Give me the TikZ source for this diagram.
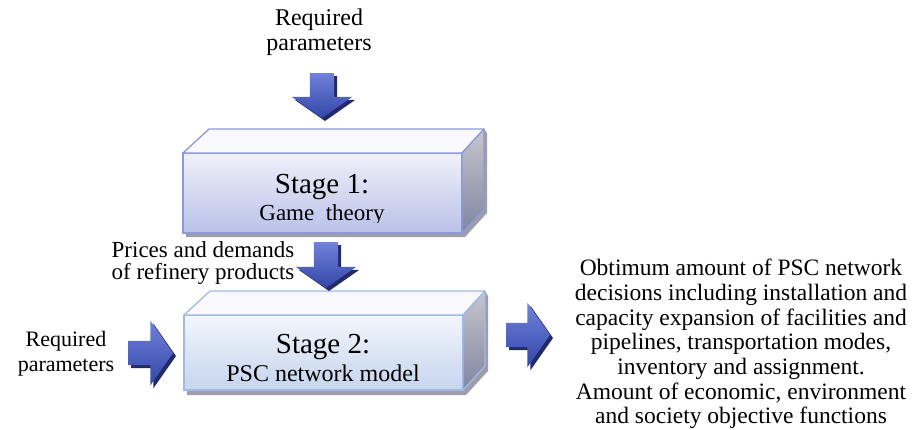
\documentclass[tikz,border=0pt]{standalone}
\usepackage{fontspec}
\setmainfont{Liberation Serif}
\usepackage{xcolor}
\usepackage{tikz}
\usetikzlibrary{shapes,arrows,positioning,calc,shadows,backgrounds}

\definecolor{boxonedraw}{RGB}{140,155,215}
\definecolor{boxonetop}{RGB}{240,241,250}
\definecolor{boxonebot}{RGB}{186,193,232}
\definecolor{boxtwodraw}{RGB}{160,186,228}
\definecolor{boxtwotop}{RGB}{243,246,252}
\definecolor{boxtwobot}{RGB}{198,212,238}
\definecolor{facetop}{RGB}{248,248,253}
\definecolor{sidelight}{RGB}{198,198,204}
\definecolor{sidedark}{RGB}{128,133,162}
\definecolor{boxshadow}{RGB}{158,158,170}
\definecolor{arrowlight}{RGB}{112,130,218}
\definecolor{arrowdark}{RGB}{52,70,168}
\definecolor{arrowshade}{RGB}{36,42,100}

\begin{document}
\begin{tikzpicture}[x=1pt,y=-1pt,
  every node/.style={inner sep=0pt,outer sep=0pt},
  stagebox/.style={rectangle,minimum width=279pt,line width=1.3pt},
  topface/.style={fill=facetop,line width=1.3pt,line join=round},
  sideface/.style={top color=sidelight,bottom color=sidedark,line width=1.3pt,line join=round},
  blockarrow/.style={single arrow,inner xsep=0pt,inner ysep=12pt,
    single arrow head extend=18pt,single arrow tip angle=110,minimum height=45pt,
    top color=arrowlight,bottom color=arrowdark,
    copy shadow={shadow xshift=3pt,shadow yshift=-3pt,fill=arrowshade,draw=none}},
  bigtxt/.style={align=center,font=\fontsize{24}{25}\selectfont}
]
  \useasboundingbox (0,0) rectangle (920,429);

  % stage 1 box
  \node[stagebox,minimum height=80pt,draw=boxonedraw,top color=boxonetop,bottom color=boxonebot] (stageone) at (322.5,193) {};
  \draw[topface,draw=boxonedraw] (stageone.north west) -- ++(26,-24) -- ($(stageone.north east)+(22,-24)$) -- (stageone.north east) -- cycle;
  \draw[sideface,draw=boxonedraw] (stageone.north east) -- ++(22,-24) -- ($(stageone.south east)+(22,-24)$) -- (stageone.south east) -- cycle;
  \begin{pgfonlayer}{background}
    \fill[boxshadow] ($(stageone.south west)+(3,4)$) -- ($(stageone.south east)+(3,4)$) -- ($(stageone.south east)+(25,-20)$) -- ($(stageone.north east)+(25,-20)$) -- ($(stageone.north east)+(22,-24)$) -- (stageone.north west) -- cycle;
  \end{pgfonlayer}
  \begin{scope}
    \clip (stageone.north west) rectangle (462,222);
    \node[anchor=base,font=\fontsize{29}{30}\selectfont] (stageonettl) at (322,193) {Stage 1:};
    \node[anchor=base,font=\fontsize{23}{24}\selectfont] (stageonesub) at (322,220) {Game~ theory};
  \end{scope}

  % stage 2 box
  \node[stagebox,minimum height=75pt,draw=boxtwodraw,top color=boxtwotop,bottom color=boxtwobot] (stagetwo) at (323.5,352.5) {};
  \draw[topface,draw=boxtwodraw] (stagetwo.north west) -- ++(26,-24) -- ($(stagetwo.north east)+(22,-24)$) -- (stagetwo.north east) -- cycle;
  \draw[sideface,draw=boxtwodraw] (stagetwo.north east) -- ++(22,-24) -- ($(stagetwo.south east)+(22,-24)$) -- (stagetwo.south east) -- cycle;
  \begin{pgfonlayer}{background}
    \fill[boxshadow] ($(stagetwo.south west)+(3,5)$) -- ($(stagetwo.south east)+(3,5)$) -- ($(stagetwo.south east)+(25,-19)$) -- ($(stagetwo.north east)+(25,-19)$) -- ($(stagetwo.north east)+(22,-24)$) -- (stagetwo.north west) -- cycle;
  \end{pgfonlayer}
  \begin{scope}
    \clip (stagetwo.north west) rectangle (463,382);
    \node[anchor=base,font=\fontsize{29}{30}\selectfont] (stagetwottl) at (323,353) {Stage 2:};
    \node[anchor=base,font=\fontsize{24}{25}\selectfont] (stagetwosub) at (323,381) {PSC network model};
  \end{scope}

  % inputs
  \node[bigtxt] (topinput) at (319,32) {Required\\parameters};
  \node[blockarrow,rotate=-90,anchor=tail] (toparrow) at (322,73) {};

  \node[bigtxt,font=\fontsize{23}{22.5}\selectfont] (prices) at (203,263) {Prices and demands\\of refinery products};
  \node[blockarrow,rotate=-90,anchor=tail,minimum height=46pt] (midarrow) at (326,242) {};

  \node[bigtxt,font=\fontsize{22}{25}\selectfont] (leftinput) at (66,354) {Required\\parameters};
  \node[blockarrow,anchor=tail,single arrow head extend=20pt] (leftarrow) at (128,353) {};

  % output
  \node[blockarrow,anchor=tail,minimum height=44pt,single arrow head extend=20pt] (rightarrow) at (506,335) {};
  \node[align=center,font=\fontsize{23.5}{24.7}\selectfont] (output) at (741,344)
    {Obtimum amount of PSC network\\decisions including installation and\\capacity expansion of facilities and\\pipelines, transportation modes,\\inventory and assignment.\\Amount of economic, environment\\and society objective functions};
\end{tikzpicture}
\end{document}
